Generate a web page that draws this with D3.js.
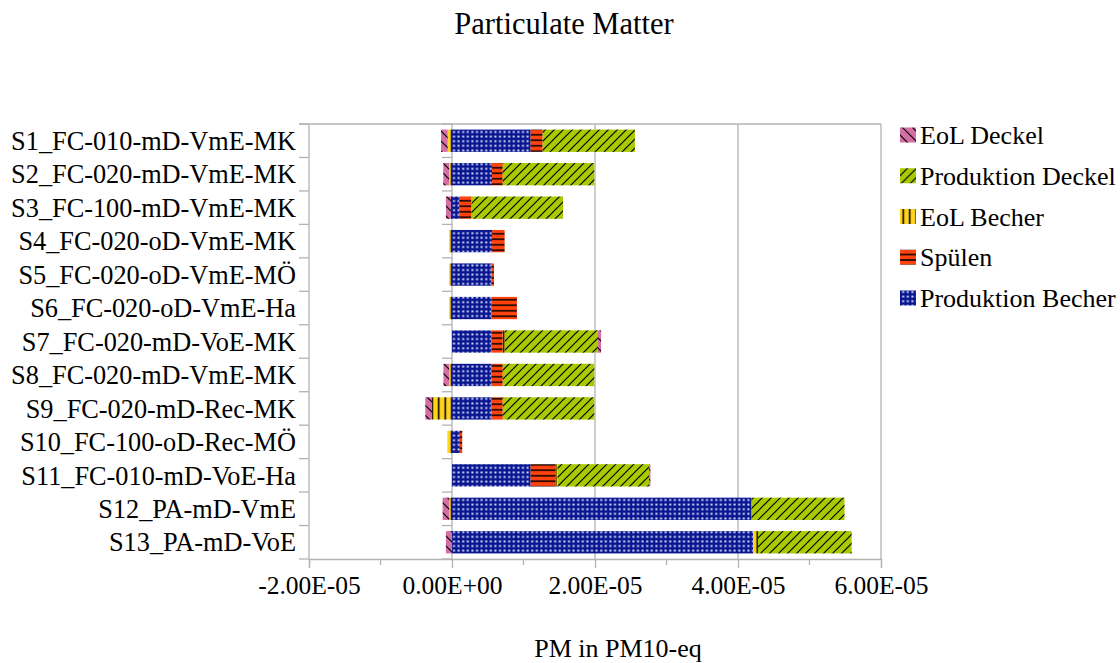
<!DOCTYPE html>
<html>
<head>
<meta charset="utf-8">
<script src="https://cdn.jsdelivr.net/npm/d3@7"></script>
<style>
  html, body { margin: 0; padding: 0; background: #fff; }
  svg { display: block; }
  text { font-family: "Liberation Serif", "Times New Roman", serif; fill: #000; }
</style>
</head>
<body>
<svg id="chart" width="1120" height="663"></svg>
<script>
// Scenario names (top to bottom)
const categories = [
  "S1_FC-010-mD-VmE-MK", "S2_FC-020-mD-VmE-MK", "S3_FC-100-mD-VmE-MK",
  "S4_FC-020-oD-VmE-MK", "S5_FC-020-oD-VmE-MÖ", "S6_FC-020-oD-VmE-Ha",
  "S7_FC-020-mD-VoE-MK", "S8_FC-020-mD-VmE-MK", "S9_FC-020-mD-Rec-MK",
  "S10_FC-100-oD-Rec-MÖ", "S11_FC-010-mD-VoE-Ha", "S12_PA-mD-VmE", "S13_PA-mD-VoE"
];

// Contributions in PM10-eq, in stacking order
const produktionBecher = [1.10e-5, 5.6e-6, 1.0e-6, 5.6e-6, 5.5e-6, 5.5e-6, 5.5e-6, 5.5e-6, 5.5e-6, 1.1e-6, 1.10e-5, 4.19e-5, 4.21e-5];
const spuelen          = [1.68e-6, 1.5e-6, 1.73e-6, 1.76e-6, 3.7e-7, 3.58e-6, 1.6e-6, 1.6e-6, 1.6e-6, 3.3e-7, 3.5e-6, 0, 0];
const eolBecher        = [-6.0e-7, -4.2e-7, -1.5e-7, -4.0e-7, -4.0e-7, -4.0e-7, 3.0e-7, -4.0e-7, -2.8e-6, -6.5e-7, 2.5e-7, -3.8e-7, 7.0e-7];
const produktionDeckel = [1.29e-5, 1.28e-5, 1.28e-5, 0, 0, 0, 1.30e-5, 1.28e-5, 1.28e-5, 0, 1.28e-5, 1.30e-5, 1.31e-5];
const eolDeckel        = [-9.3e-7, -8.0e-7, -7.0e-7, 0, 0, 0, 4.5e-7, -8.0e-7, -9.3e-7, 0, 2.0e-7, -9.3e-7, -8.5e-7];

const seriesNames = ["Produktion Becher", "Spülen", "EoL Becher", "Produktion Deckel", "EoL Deckel"];
const seriesValues = [produktionBecher, spuelen, eolBecher, produktionDeckel, eolDeckel];

// Value axis ticks
const tickValues = [-2e-5, 0, 2e-5, 4e-5, 6e-5];
const tickLabels = ["-2.00E-05", "0.00E+00", "2.00E-05", "4.00E-05", "6.00E-05"];
const minorTickValues = [-1e-5, 1e-5, 3e-5, 5e-5];

const rows = categories.map((c, i) => {
  const r = { cat: c };
  seriesNames.forEach((s, j) => { r[s] = seriesValues[j][i]; });
  return r;
});

const svg = d3.select("#chart");
const plot = { left: 309, right: 881, top: 124, bottom: 559 };

const x = d3.scaleLinear().domain([-2e-5, 6e-5]).range([plot.left, plot.right]);
const y = d3.scaleBand().domain(categories).range([plot.top, plot.bottom])
  .paddingInner(1 / 3).paddingOuter(1 / 6);

// Hatch fills
const defs = svg.append("defs");
function pattern(id, w, h, bg, draw) {
  const p = defs.append("pattern").attr("id", id)
    .attr("patternUnits", "userSpaceOnUse").attr("width", w).attr("height", h);
  p.append("rect").attr("width", w).attr("height", h).attr("fill", bg);
  draw(p);
}
pattern("pBecher", 4.6, 4.6, "#dfe6ff", p => {
  p.append("path").attr("d", "M0,0.9H4.6M0.9,0V4.6")
    .attr("stroke", "#0a1690").attr("stroke-width", 2.6);
  p.append("path").attr("d", "M0,5.5H4.6M5.5,0V4.6")
    .attr("stroke", "#0a1690").attr("stroke-width", 2.6);
});
pattern("pSpuelen", 8, 5.5, "#ff420e", p => {
  p.append("path").attr("d", "M0,2.75H8").attr("stroke", "#000").attr("stroke-width", 1.5);
});
pattern("pEolBecher", 6.5, 8, "#ffd320", p => {
  p.append("path").attr("d", "M3.25,0V8").attr("stroke", "#000").attr("stroke-width", 1.6);
});
pattern("pDeckel", 9, 9, "#a9c900", p => {
  p.append("path").attr("d", "M-1,1L1,-1M0,9L9,0M8,10L10,8")
    .attr("stroke", "#000").attr("stroke-width", 1.2);
});
pattern("pEolDeckel", 10, 10, "#d46ea4", p => {
  p.append("path").attr("d", "M0,0L10,10M-1,9L1,11M9,-1L11,1")
    .attr("stroke", "#000").attr("stroke-width", 1.2);
});
const fills = {
  "Produktion Becher": "url(#pBecher)",
  "Spülen": "url(#pSpuelen)",
  "EoL Becher": "url(#pEolBecher)",
  "Produktion Deckel": "url(#pDeckel)",
  "EoL Deckel": "url(#pEolDeckel)"
};

const grey = "#b3b3b3";

// Vertical grid lines at the major ticks
svg.append("g").selectAll("line").data(tickValues).join("line")
  .attr("x1", d => x(d)).attr("x2", d => x(d))
  .attr("y1", plot.top).attr("y2", plot.bottom)
  .attr("stroke", grey).attr("stroke-width", 1.3);

// Top frame line
svg.append("line").attr("x1", plot.left - 10).attr("x2", plot.right)
  .attr("y1", plot.top).attr("y2", plot.top)
  .attr("stroke", grey).attr("stroke-width", 1.3);

// Stacked bars
const stack = d3.stack().keys(seriesNames).offset(d3.stackOffsetDiverging);
const layers = stack(rows);

svg.append("g").selectAll("g").data(layers).join("g")
  .attr("fill", d => fills[d.key])
  .selectAll("rect").data(d => d.filter(s => s[1] - s[0] !== 0)).join("rect")
  .attr("x", d => x(Math.min(d[0], d[1])))
  .attr("width", d => Math.abs(x(d[1]) - x(d[0])))
  .attr("y", d => y(d.data.cat))
  .attr("height", y.bandwidth());

// Category boundary ticks at the left edge and on the zero line
const boundaries = categories.map(c => y(c) - y.step() * y.paddingInner() / 2);
boundaries.push(plot.bottom);
boundaries[0] = plot.top;
[plot.left, x(0)].forEach(px => {
  svg.append("g").selectAll("line").data(boundaries).join("line")
    .attr("x1", px - 10).attr("x2", px)
    .attr("y1", d => d).attr("y2", d => d)
    .attr("stroke", grey).attr("stroke-width", 1.3);
});

// Category labels
svg.append("g").selectAll("text").data(categories).join("text")
  .attr("x", plot.left - 13)
  .attr("y", d => y(d) + y.bandwidth() / 2)
  .attr("dy", "0.35em")
  .attr("text-anchor", "end")
  .attr("font-size", 26.3)
  .text(d => d);

// Value axis
const xAxis = d3.axisBottom(x).tickValues(tickValues)
  .tickFormat((d, i) => tickLabels[i]).tickSize(9).tickPadding(8);
const gx = svg.append("g").attr("transform", `translate(0,${plot.bottom})`).call(xAxis);
gx.select(".domain").attr("stroke", grey).attr("stroke-width", 1.3);
gx.selectAll(".tick line").attr("stroke", grey).attr("stroke-width", 1.3);
gx.selectAll(".tick text").attr("font-size", 25.5)
  .attr("font-family", "Liberation Serif, serif").attr("fill", "#000");
svg.append("g").selectAll("line").data(minorTickValues).join("line")
  .attr("x1", d => x(d)).attr("x2", d => x(d))
  .attr("y1", plot.bottom).attr("y2", plot.bottom + 6)
  .attr("stroke", grey).attr("stroke-width", 1.3);

// Titles
svg.append("text").attr("x", 564).attr("y", 34).attr("text-anchor", "middle")
  .attr("font-size", 30.5).text("Particulate Matter");
svg.append("text").attr("x", 618).attr("y", 657).attr("text-anchor", "middle")
  .attr("font-size", 26).text("PM in PM10-eq");

// Legend (reverse stacking order)
const legendItems = seriesNames.slice().reverse();
const lg = svg.append("g").selectAll("g").data(legendItems).join("g")
  .attr("transform", (d, i) => `translate(900,${135 + i * 40.75})`);
lg.append("rect").attr("x", 0).attr("y", -7.5).attr("width", 16).attr("height", 15)
  .attr("fill", d => fills[d]);
lg.append("text").attr("x", 20).attr("dy", "0.35em").attr("font-size", 26).text(d => d);
</script>
</body>
</html>
